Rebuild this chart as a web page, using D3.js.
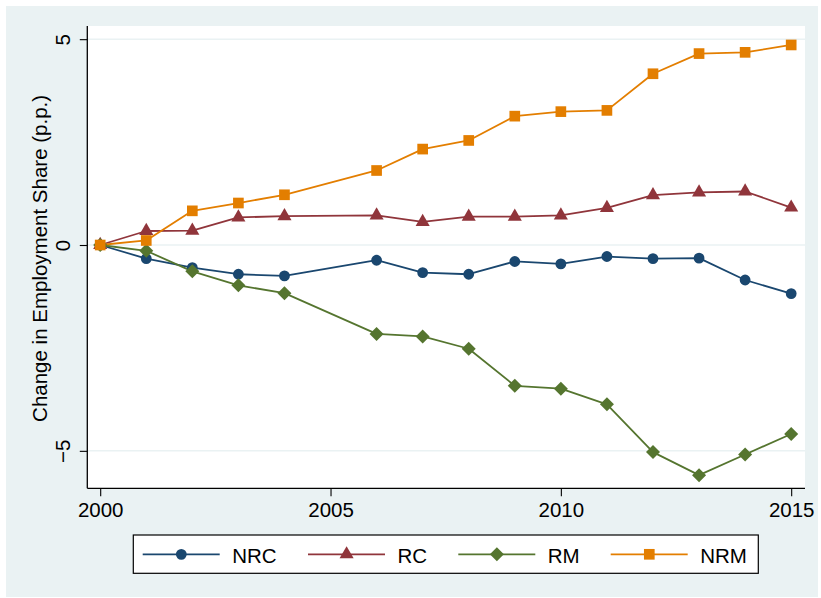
<!DOCTYPE html>
<html><head><meta charset="utf-8">
<script src="https://cdn.jsdelivr.net/npm/d3@7"></script>
<style>body{margin:0;background:#fff}svg{display:block}text{font-family:"Liberation Sans",Arial,sans-serif;fill:#000}</style>
</head><body><svg id="c" width="821" height="598"></svg>
<script>
const years = [2000,2001,2002,2003,2004,2006,2007,2008,2009,2010,2011,2012,2013,2014,2015];
const nrc = [0,-0.33,-0.55,-0.71,-0.75,-0.37,-0.67,-0.71,-0.40,-0.46,-0.28,-0.33,-0.32,-0.85,-1.18];
const rc  = [0,0.34,0.35,0.67,0.70,0.72,0.56,0.69,0.69,0.72,0.90,1.21,1.28,1.30,0.91];
const rm  = [0,-0.14,-0.64,-0.98,-1.17,-2.16,-2.22,-2.52,-3.42,-3.49,-3.87,-5.03,-5.59,-5.09,-4.59];
const nrm = [0,0.11,0.83,1.02,1.22,1.81,2.33,2.54,3.13,3.24,3.27,4.16,4.65,4.68,4.86];
const seriesNames = ["NRC","RC","RM","NRM"];
const xTicks = [2000,2005,2010,2015];
const yTicks = [-5,0,5];
const yLabel = "Change in Employment Share (p.p.)";

const colors = ["#1A476F","#90353B","#55752F","#E37E00"];
const shapes = [
  {type:d3.symbolCircle,size:92,rot:0},
  {type:d3.symbolTriangle,size:86,rot:0},
  {type:d3.symbolSquare,size:98,rot:45},
  {type:d3.symbolSquare,size:114,rot:0}
];
const data = [nrc,rc,rm,nrm];

const svg = d3.select("#c");
const F = 20.5;
svg.append("rect").attr("x",6).attr("y",6).attr("width",812).attr("height",591).attr("fill","#EAF2F3");
const L=87.3,R=805,T=26,B=488.3;
svg.append("rect").attr("x",L).attr("y",T).attr("width",R-L).attr("height",B-T).attr("fill","#fff");

const x = d3.scaleLinear().domain([1999.72,2015.3]).range([L,R]);
const y = d3.scaleLinear().domain([-5.91,5.32]).range([B,T]);

// gridlines
svg.append("g").selectAll("line").data(yTicks).join("line")
  .attr("x1",L).attr("x2",R).attr("y1",d=>y(d)).attr("y2",d=>y(d))
  .attr("stroke","#EAF2F3").attr("stroke-width",1.5);

// axes
const fmtY = d=> d<0 ? "\u2212"+Math.abs(d) : String(d);
const gy = svg.append("g").attr("transform",`translate(${L},0)`)
  .call(d3.axisLeft(y).tickValues(yTicks).tickSize(7.5).tickPadding(0).tickFormat(fmtY));
gy.select(".domain").attr("d",`M0,${T}V${B}`).attr("stroke","#000").attr("stroke-width",1.3);
gy.selectAll(".tick line").attr("stroke","#000").attr("stroke-width",1.1);
gy.selectAll(".tick text").attr("font-size",F).attr("x",null).attr("dy",null)
  .attr("text-anchor","middle").attr("transform","translate(-17.5,0) rotate(-90)").attr("y",0);

const gx = svg.append("g").attr("transform",`translate(0,${B})`)
  .call(d3.axisBottom(x).tickValues(xTicks).tickSize(8).tickFormat(d3.format("d")));
gx.select(".domain").attr("d",`M${L},0H${R}`).attr("stroke","#000").attr("stroke-width",1.3);
gx.selectAll(".tick line").attr("stroke","#000").attr("stroke-width",1.1);
gx.selectAll(".tick text").attr("font-size",F).attr("dy",null).attr("y",28.4);
svg.selectAll(".tick text").attr("font-family",'"Liberation Sans",Arial,sans-serif').attr("fill","#000");

// y label
svg.append("text").attr("transform","translate(47,258.4) rotate(-90)")
  .attr("text-anchor","middle").attr("font-size",F).text(yLabel);

// series
const line = d3.line().x((d,i)=>x(years[i])).y(d=>y(d));
data.forEach((vals,k)=>{
  svg.append("path").datum(vals).attr("d",line).attr("fill","none")
    .attr("stroke",colors[k]).attr("stroke-width",1.8).attr("stroke-linejoin","round");
});
data.forEach((vals,k)=>{
  const sym = d3.symbol().type(shapes[k].type).size(shapes[k].size);
  svg.append("g").selectAll("path").data(vals).join("path")
    .attr("d",sym)
    .attr("transform",(d,i)=>`translate(${x(years[i])},${y(d)}) rotate(${shapes[k].rot})`)
    .attr("fill",colors[k]);
});

// legend
svg.append("rect").attr("x",133.3).attr("y",535).attr("width",625).attr("height",38.3)
  .attr("fill","#fff").attr("stroke","#000").attr("stroke-width",1.2);
const lx0 = [142.7,308,458.3,610.7];
seriesNames.forEach((n,k)=>{
  const ly = 554.3, x0 = lx0[k];
  svg.append("line").attr("x1",x0).attr("x2",x0+77).attr("y1",ly).attr("y2",ly)
    .attr("stroke",colors[k]).attr("stroke-width",1.8);
  svg.append("path").attr("d",d3.symbol().type(shapes[k].type).size(shapes[k].size))
    .attr("transform",`translate(${x0+38.6},${ly}) rotate(${shapes[k].rot})`).attr("fill",colors[k]);
  svg.append("text").attr("x",x0+89.5).attr("y",562.7).attr("font-size",F).text(n);
});
</script></body></html>
